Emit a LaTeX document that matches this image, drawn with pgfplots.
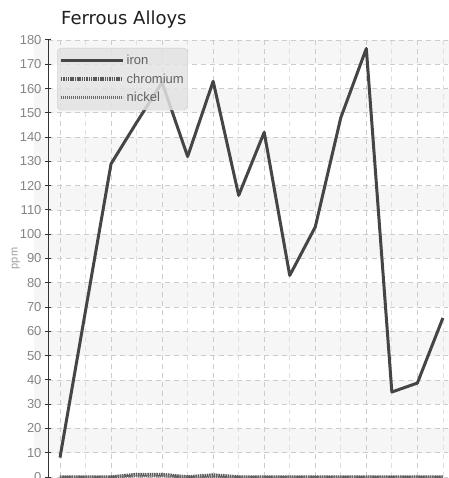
\documentclass[border=0pt]{standalone}
\usepackage{pgfplots}
\pgfplotsset{compat=1.18}
\usepackage{fontspec}
\setmainfont{Liberation Sans}
\newfontfamily\titlefont{DejaVu Sans}
\definecolor{ironc}{HTML}{454545}
\definecolor{tickc}{HTML}{858585}
\definecolor{gridc}{HTML}{CCCCCC}
\definecolor{bandc}{HTML}{F6F6F6}

\begin{document}
\begin{tikzpicture}
\begin{axis}[
    set layers,
    scale only axis,
    width=400pt, height=437pt,
    xmin=-0.47, xmax=15.2,
    ymin=0, ymax=180,
    ytick={0,10,...,180},
    xtick={0,2,...,14},
    minor xtick={1,3,...,15},
    xticklabels={},
    axis x line*=bottom,
    axis y line*=left,
    x axis line style={draw=none},
    y axis line style={draw=black!80, line width=1pt, -},
    x tick style={draw=none},
    minor x tick style={draw=none},
    y tick style={draw=black!80, line width=1pt},
    ytick align=center,
    major tick length=6pt,
    grid=both,
    major grid style={draw=gridc, dash pattern=on 5pt off 4pt, line width=0.7pt},
    minor grid style={draw=gridc!60, dash pattern=on 5pt off 4pt, line width=0.7pt},
    tick label style={text=tickc, font=\fontsize{13}{13}\selectfont},
    /pgf/number format/assume math mode=true,
    ylabel={ppm},
    ylabel style={text=tickc!80, font=\fontsize{11}{11}\selectfont, yshift=-7pt},
    legend cell align=left,
    legend image code/.code={\draw[#1] (0pt,0pt) -- (62pt,0pt);},
    legend style={at={(0,1)}, anchor=north west, xshift=9pt, yshift=-8pt,
        fill=black!11, fill opacity=0.85, text opacity=1, draw=black!20,
        rounded corners=4pt, text=black!62,
        font=\fontsize{13}{13}\selectfont, row sep=3.5pt,
        inner xsep=2pt, inner ysep=5pt},
]
\begin{pgfonlayer}{axis background}
\pgfplotsinvokeforeach{10,30,...,170}{
  \fill[bandc] (axis cs:-1,#1) rectangle (axis cs:16,#1+10);
}
\end{pgfonlayer}

\addplot[ironc, line width=3pt, line join=round] coordinates {
  (0,8) (1,68.5) (2,129) (3,146) (4,162.5) (5,132) (6,163) (7,116)
  (8,142) (9,83) (10,103) (11,148) (12,176.5) (13,35) (14,38.7) (15,65.5)
};
\addlegendentry{iron}
\addplot[ironc!90, line width=3.5pt, dash pattern=on 1.5pt off 0.8pt] coordinates {
  (0,0) (1,0) (2,0) (3,1) (4,1) (5,0) (6,0.8) (7,0)
  (8,0) (9,0) (10,0) (11,0) (12,0) (13,0) (14,0) (15,0)
};
\addlegendentry{chromium}
\addplot[ironc!80, line width=2.5pt, dash pattern=on 1.2pt off 0.8pt] coordinates {
  (0,0) (1,0) (2,0) (3,0.4) (4,0.4) (5,0) (6,0) (7,0)
  (8,0) (9,0) (10,0) (11,0) (12,0) (13,0) (14,0) (15,0)
};
\addlegendentry{nickel}

\coordinate (sw) at (rel axis cs:0,0);
\coordinate (ne) at (rel axis cs:1,1);
\end{axis}
\node[anchor=base west, inner sep=0pt, text=black!88, font=\titlefont\fontsize{18}{18}\selectfont]
  at ([xshift=13pt, yshift=15pt]sw |- ne) {Ferrous Alloys};
\pgfresetboundingbox
\path ([xshift=-48pt, yshift=-1pt]sw) rectangle ([yshift=40pt]ne);
\end{tikzpicture}
\end{document}
